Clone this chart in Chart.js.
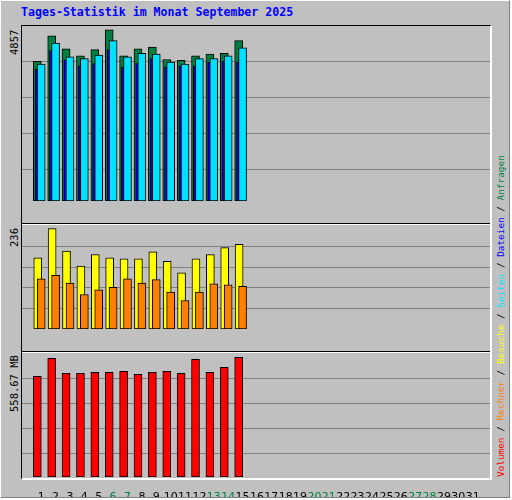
<!DOCTYPE html>
<html><head><meta charset="utf-8">
<script src="https://cdn.jsdelivr.net/npm/chart.js@4"></script>
<style>
body{margin:0;background:#fff;}
#wrap{position:absolute;left:0;top:0;width:510px;height:498px;background:#c0c0c0;border-top:1px solid #fff;border-left:1px solid #fff;border-right:1px solid #808080;border-bottom:1px solid #808080;box-sizing:border-box;overflow:hidden;font-family:"DejaVu Sans Mono",monospace;}
#title{position:absolute;left:20px;top:4px;font-size:11.6px;font-weight:bold;color:#0000ff;white-space:nowrap;}
#panel{position:absolute;left:20px;top:24px;width:471px;height:455px;border-top:1px solid #000;border-left:1px solid #000;border-right:2px solid #fff;border-bottom:2px solid #fff;box-sizing:border-box;}
.sep{position:absolute;left:21px;width:468px;height:1px;}
canvas{position:absolute;}
.rot{position:absolute;transform-origin:0 0;transform:rotate(-90deg);white-space:nowrap;font-size:10.5px;}
</style></head><body>
<div id="wrap">
<div id="title">Tages-Statistik im Monat September 2025</div>
<div id="panel"></div>
<div class="sep" style="top:222px;background:#000"></div>
<div class="sep" style="top:223px;background:#fff"></div>
<div class="sep" style="top:350px;background:#000"></div>
<div class="sep" style="top:351px;background:#fff"></div>
<div class="rot" style="left:7px;top:54px;color:#000">4857</div>
<div class="rot" style="left:7px;top:246px;color:#000">236</div>
<div class="rot" style="left:7px;top:411px;color:#000">558.67 MB</div>
<div class="rot" style="left:494px;top:476px;font-size:9.4px"><span style="color:#ff0000">Volumen</span> / <span style="color:#ff8000">Rechner</span> / <span style="color:#ffff00">Besuche</span> / <span style="color:#00e0ff">Seiten</span> / <span style="color:#0000ff">Dateien</span> / <span style="color:#008040">Anfragen</span></div>
<canvas id="c1" width="468" height="195" style="left:21px;top:25px;width:468px;height:195px"></canvas>
<canvas id="c2" width="468" height="123" style="left:21px;top:225px;width:468px;height:123px"></canvas>
<canvas id="c3" width="468" height="143" style="left:21px;top:353px;width:468px;height:143px"></canvas>
</div>
<script>
const days = [1,2,3,4,5,6,7,8,9,10,11,12,13,14,15];
const tickLabels = Array.from({length:31},(_,i)=>String(i+1));
const weekendDays = [6,7,13,14,20,21,27,28];
const hits  = [3965,4686,4321,4118,4296,4857,4118,4321,4372,4016,3991,4118,4169,4194,4550];
const files = [3736,4271,3998,3836,3897,4296,3795,3897,4042,3795,3836,3836,3940,3965,3940];
const pages = [3889,4483,4092,4042,4143,4550,4092,4194,4169,3940,3889,4042,4042,4118,4347];
const visits= [167,236,183,148,175,167,165,165,181,159,132,165,175,191,199];
const sites = [118,126,108,81,92,98,118,108,116,87,67,87,106,104,100];
const volume= [470,554,484,484,488,488,493,479,488,493,484,549,488,512,558.67];

function pts(vals, off){ return vals.map((v,i)=>({x:days[i]+off,y:v})); }
function ds(vals, off, color, w){
  return {data:pts(vals,off),backgroundColor:color,borderColor:'#000',borderWidth:1,borderSkipped:false,barThickness:w,grouped:false};
}
function make(id, datasets, ymax, grid, showX){
  new Chart(document.getElementById(id),{
    type:'bar',
    data:{datasets},
    options:{
      responsive:false,animation:false,devicePixelRatio:1,
      layout:{padding:0},
      plugins:{legend:{display:false},tooltip:{enabled:false}},
      scales:{
        x:{type:'linear',min:0.19,max:31.68,display:showX,
           grid:{display:false},border:{display:false},
           afterBuildTicks:s=>{s.ticks=tickLabels.map((t,i)=>({value:i+1}));},
           afterFit:s=>{s.height=20;},
           ticks:{autoSkip:false,maxRotation:0,padding:6,
             font:{family:'DejaVu Sans',size:11},
             color:c=>weekendDays.includes(c.tick.value)?'#008040':'#000',
             callback:v=>tickLabels[v-1]}},
        y:{min:0,max:ymax,display:true,
           afterFit:s=>{s.width=0;},
           afterBuildTicks:s=>{s.ticks=grid.map(v=>({value:v}));},
           ticks:{display:false},border:{display:false},
           grid:{color:'#808080',lineWidth:1,drawTicks:false}}
      }
    }
  });
}
make('c1',[ds(pages,0,'#00e0ff',8),ds(files,-0.32,'#0000ff',3),ds(hits,-0.27,'#008040',8)],4967,[891,1910,2929,3948],false);
make('c2',[ds(sites,0,'#ff8000',8),ds(visits,-0.24,'#ffff00',8)],241.9,[47.2,96.4,145.5,194.7],false);
make('c3',[ds(volume,-0.27,'#ff0000',8)],574.1,[109.5,226.5,343.4,460.4],true);
</script>
</body></html>
